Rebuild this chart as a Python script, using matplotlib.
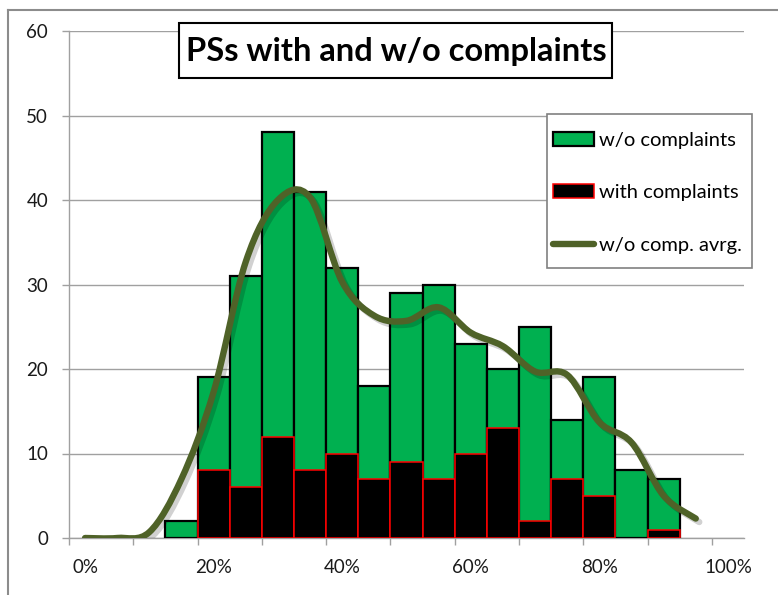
import matplotlib
matplotlib.use('Agg')
import matplotlib.pyplot as plt
from matplotlib.path import Path
from matplotlib.patches import PathPatch, Rectangle, Patch
from matplotlib.lines import Line2D
import matplotlib.patheffects as pe
import numpy as np

# ---------------- data ----------------
bin_centers = [0.15, 0.20, 0.25, 0.30, 0.35, 0.40, 0.45, 0.50,
               0.55, 0.60, 0.65, 0.70, 0.75, 0.80, 0.85, 0.90]
wo_complaints = [2, 19, 31, 48, 41, 32, 18, 29, 30, 23, 20, 25, 14, 19, 8, 7]
with_complaints = [0, 8, 6, 12, 8, 10, 7, 9, 7, 10, 13, 2, 7, 5, 0, 1]

avg_x = [0.00, 0.05, 0.10, 0.15, 0.20, 0.25, 0.30, 0.35, 0.40, 0.45,
         0.50, 0.55, 0.60, 0.65, 0.70, 0.75, 0.80, 0.85, 0.90, 0.95]
wo_avg = [0, 0, 0.7, 7, 17.3, 32.7, 40, 40.3, 30.3, 26.3,
          25.7, 27.3, 24.3, 22.7, 19.7, 19.3, 13.7, 11.3, 5, 2.3]

x_tick_labels = ['0%', '20%', '40%', '60%', '80%', '100%']
x_tick_pos = [0.0, 0.2, 0.4, 0.6, 0.8, 1.0]
y_ticks = [0, 10, 20, 30, 40, 50, 60]

title = 'PSs with and w/o complaints'
labels = ['w/o complaints', 'with complaints', 'w/o comp. avrg.']

# ---------------- style ----------------
W, H = 778, 595
FONT = 'Lato'
GREEN = '#00B050'
OLIVE = '#4F6228'
GRID = '#A0A0A0'

fig = plt.figure(figsize=(W / 100, H / 100), dpi=100)
fig.patch.set_facecolor('white')

def fx(px):
    return px / W

def fy(py):
    return 1 - py / H

ax = fig.add_axes([fx(69), fy(538), fx(744) - fx(69), fy(31) - fy(538)])
ax.set_xlim(-0.025, 1.025)
ax.set_ylim(0, 60)

bw = 0.05
lw_zero = [0 if v == 0 else 1.1 for v in with_complaints]
ax.bar(bin_centers, wo_complaints, width=bw, color=GREEN, edgecolor='black',
       linewidth=1.6, zorder=3)
ax.bar(bin_centers, with_complaints, width=bw, color='black', edgecolor='#FF0000',
       linewidth=lw_zero, zorder=4)

# smoothed (Excel-like) line through the average points
P = np.column_stack([avg_x, wo_avg]).astype(float)
n = len(P)
verts = [P[0]]
codes = [Path.MOVETO]
for i in range(n - 1):
    p0 = P[i - 1] if i > 0 else P[i]
    p3 = P[i + 2] if i + 2 < n else P[i + 1]
    c1 = P[i] + (P[i + 1] - p0) / 6
    c2 = P[i + 1] - (p3 - P[i]) / 6
    verts += [c1, c2, P[i + 1]]
    codes += [Path.CURVE4] * 3
curve = PathPatch(Path(verts, codes), facecolor='none', edgecolor=OLIVE,
                  linewidth=4.6, capstyle='round', joinstyle='round', zorder=5,
                  path_effects=[pe.SimpleLineShadow(offset=(2.5, -2.5), shadow_color='black', alpha=0.18),
                                pe.Normal()])
ax.add_patch(curve)

# grid / axes
ax.set_yticks(y_ticks)
ax.yaxis.grid(True, color=GRID, linewidth=1.0, zorder=0)
ax.set_axisbelow(True)
for s in ['top', 'right']:
    ax.spines[s].set_visible(False)
ax.spines['left'].set_color(GRID)
ax.spines['bottom'].set_color(GRID)
ax.spines['left'].set_linewidth(1.0)
ax.spines['bottom'].set_linewidth(1.0)

ax.set_xticks(x_tick_pos)
ax.set_xticklabels(x_tick_labels)
ax.set_xticks([-0.025 + 0.1 * k for k in range(11)], minor=True)
ax.tick_params(axis='x', which='major', length=0, pad=15, labelsize=13.5,
               labelcolor='#1a1a1a')
ax.tick_params(axis='x', which='minor', length=5, width=1.0, color=GRID,
               direction='out')
ax.tick_params(axis='y', which='major', length=5, width=1.0, color=GRID,
               pad=10, labelsize=13.5, labelcolor='#1a1a1a')
for lab in ax.get_xticklabels() + ax.get_yticklabels():
    lab.set_fontfamily(FONT)

# title box
fig.add_artist(Rectangle((fx(179), fy(78)), fx(612) - fx(179), fy(23) - fy(78),
                         transform=fig.transFigure, facecolor='white',
                         edgecolor='black', linewidth=1.5, zorder=10))
fig.text(fx(396), fy(51), title, ha='center', va='center', fontsize=23.5,
         fontweight='bold', family=FONT, zorder=11)

# legend frame
fig.add_artist(Rectangle((fx(547), fy(268)), fx(752) - fx(547), fy(114) - fy(268),
                         transform=fig.transFigure, facecolor='white',
                         edgecolor='#808080', linewidth=1.2, zorder=10))
handles = [Patch(facecolor=GREEN, edgecolor='black', linewidth=1.6),
           Patch(facecolor='black', edgecolor='#FF0000', linewidth=1.1),
           Line2D([0], [0], color=OLIVE, linewidth=4.6, solid_capstyle='round')]
leg = fig.legend(handles, labels, loc='upper left',
                 bbox_to_anchor=(fx(549), fy(128)), bbox_transform=fig.transFigure,
                 frameon=False, prop={'family': FONT, 'size': 14.5},
                 handlelength=2.05, handleheight=0.7, handletextpad=0.25,
                 labelspacing=1.75, borderpad=0.2, borderaxespad=0)
leg.set_zorder(12)

# outer chart frame
fig.add_artist(Line2D([fx(7.5), fx(7.5)], [0, fy(10)], transform=fig.transFigure,
                      color='#8C8C8C', linewidth=1.5, zorder=20))
fig.add_artist(Line2D([fx(7.5), 1], [fy(10), fy(10)], transform=fig.transFigure,
                      color='#8C8C8C', linewidth=1.5, zorder=20))

fig.savefig('out.png', dpi=100, facecolor='white')
